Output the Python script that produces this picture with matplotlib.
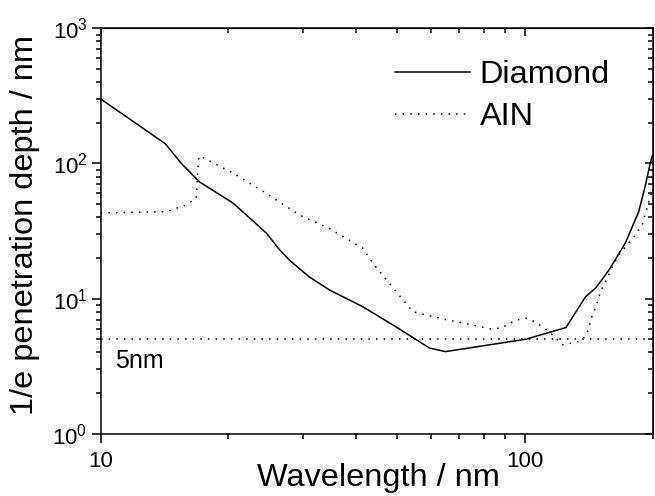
import numpy as np
import matplotlib
matplotlib.use("Agg")
import matplotlib.pyplot as plt
from matplotlib.ticker import FuncFormatter, NullFormatter, LogLocator

plt.rcParams['font.family'] = ['Liberation Sans', 'DejaVu Sans']
plt.rcParams['mathtext.fontset'] = 'custom'
plt.rcParams['mathtext.rm'] = 'Liberation Sans'
plt.rcParams['mathtext.it'] = 'Liberation Sans:italic'

# Diamond penetration depth
diamond_wl = [10, 14.2, 15.5, 17.1, 20.5, 24.6, 26.4, 28, 31, 34.6, 41.5, 50, 59.6, 65,
              80, 100.5, 125, 139, 147, 158, 172.6, 185.6, 192, 197.5, 200]
diamond_d = [300, 140, 100, 73, 51, 30.5, 23, 19, 14.5, 11.6, 8.7, 6.1, 4.3, 4.05,
             4.48, 5.0, 6.1, 10.3, 12.0, 16.3, 25.8, 44, 67, 100, 115]

# AlN penetration depth
aln_wl = [10, 14.3, 15.8, 16.8, 17.0, 17.1, 20.5, 24.6, 29.4, 34.6, 41.5, 43.8, 47.9,
          54.4, 65, 75, 83.6, 88.4, 95, 100.5, 106, 114, 122.6, 129.6, 136, 140.2,
          144, 147, 151, 155, 165.5, 174, 180, 189, 194, 200]
aln_d = [43, 44, 49, 55, 106, 114, 85, 60, 41.6, 33, 23.6, 18.3, 13, 8.0, 7.0, 6.4,
         5.93, 6.1, 6.9, 7.16, 6.7, 5.7, 4.55, 4.7, 4.85, 5.5, 7.4, 8.7, 11.3, 13.4,
         20.5, 24.9, 28, 35, 46.6, 65]

threshold = 5
wl_range = [10, 200]

fig = plt.figure(figsize=(6.55, 4.96), dpi=100)
ax = fig.add_axes([0.1537, 0.1256, 0.8425, 0.8173])

dots = (0, (1, 4))
ax.plot(diamond_wl, diamond_d, color='black', lw=1.1, label='Diamond')
ax.plot(aln_wl, aln_d, color='black', lw=1.1, ls=dots, label='AIN')
ax.plot(wl_range, [threshold, threshold], color='black', lw=1.1, ls=dots)
ax.text(10.8, 3.05, '5nm', fontsize=18, va='baseline')

ax.set_xscale('log')
ax.set_yscale('log')
ax.set_xlim(wl_range)
ax.set_ylim(1, 1000)

for s in ax.spines.values():
    s.set_linewidth(1.1)

ax.xaxis.set_major_formatter(FuncFormatter(lambda v, _: f"{v:g}"))
ax.xaxis.set_minor_formatter(NullFormatter())
ax.yaxis.set_major_locator(LogLocator(base=10, numticks=10))
ax.yaxis.set_major_formatter(FuncFormatter(lambda v, _: r"$\mathregular{10^{%d}}$" % round(np.log10(v))))
ax.yaxis.set_minor_formatter(NullFormatter())
ax.tick_params(which='major', direction='out', length=6.5, width=1.1, labelsize=16)
ax.tick_params(which='minor', direction='out', length=3.6, width=1.1)
ax.tick_params(axis='x', which='major', pad=6)
ax.tick_params(axis='y', which='major', pad=3)

# ticks on top and right point into the plot
top = ax.secondary_xaxis('top')
top.tick_params(which='major', direction='in', length=6, width=1.1)
top.tick_params(which='minor', direction='in', length=3.6, width=1.1)
top.xaxis.set_major_formatter(NullFormatter())
top.xaxis.set_minor_formatter(NullFormatter())
right = ax.secondary_yaxis('right')
right.tick_params(which='major', direction='in', length=6, width=1.1)
right.tick_params(which='minor', direction='in', length=3.6, width=1.1)
right.yaxis.set_major_formatter(NullFormatter())
right.yaxis.set_minor_formatter(NullFormatter())

fig.text(256.7 / 655, 10 / 496, 'Wavelength / nm', fontsize=23.4, ha='left', va='baseline')
fig.text(33 / 655, 1 - 225 / 496, '1/e penetration depth / nm', fontsize=23.4,
         rotation=90, rotation_mode='anchor', ha='center', va='baseline')

ax.legend(loc='upper left', bbox_to_anchor=(395 / 655, 1 - 60 / 496),
          bbox_transform=fig.transFigure, frameon=False, fontsize=23.4,
          handlelength=2.3, handletextpad=0.31, labelspacing=0.38,
          borderpad=0, borderaxespad=0)

fig.savefig('out.png', dpi=100)
